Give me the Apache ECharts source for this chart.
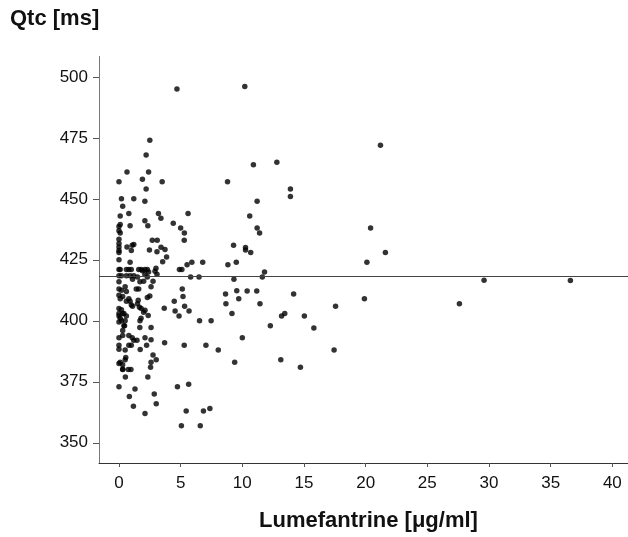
<!DOCTYPE html>
<html>
<head>
<meta charset="utf-8">
<script src="https://cdn.jsdelivr.net/npm/echarts@6/dist/echarts.min.js"></script>
<style>
html,body{margin:0;padding:0;background:#fff;}
#chart{width:628px;height:537px;}
</style>
</head>
<body>
<div id="chart"></div>
<script>
// Tick labels
const xTicks = [0, 5, 10, 15, 20, 25, 30, 35, 40];
const yTicks = [350, 375, 400, 425, 450, 475, 500];
const meanQtc = 418.3;
const yTitle = 'Qtc [ms]';
const xTitle = 'Lumefantrine [\u03bcg/ml]';

// Lumefantrine concentration (µg/ml), QTc (ms)
const lumefantrine = [
  0.0,0.1,0.1,0.0,0.0,0.1,0.0,0.0,0.0,0.0,0.0,0.0,0.0,0.1,0.0,0.2,0.0,0.0,0.2,0.0,0.3,0.1,0.0,0.2,0.0,0.3,0.0,0.1,0.2,0.0,0.4,0.3,0.0,0.3,0.0,0.0,0.1,0.0,0.3,0.3,0.0,0.2,0.3,
  0.65,0.8,0.9,0.65,1.07,1.2,1.0,0.9,0.6,0.8,1.0,0.6,0.9,1.2,1.1,0.5,0.6,0.8,0.9,0.6,1.0,1.1,0.4,0.6,0.5,0.45,0.8,1.07,1.2,1.0,0.8,0.5,0.55,0.5,0.3,0.75,0.97,0.52,0.84,1.17,1.3,1.2,1.46,
  1.9,2.2,2.5,2.4,2.2,2.1,2.1,2.34,2.47,1.6,1.8,2.1,2.3,2.1,1.5,2.3,2.0,1.7,1.4,1.6,2.5,2.3,1.56,1.5,1.66,1.8,2.11,2.37,1.79,1.7,2.0,1.69,2.6,2.11,2.6,2.24,1.72,2.34,2.11,2.4,1.9,
  2.7,3.1,3.41,3.73,3.08,3.86,3.54,2.92,3.08,3.0,2.76,2.6,3.2,3.4,3.5,3.67,2.76,3.02,2.56,2.6,2.86,3.02,3.7,
  4.7,4.4,5.0,5.3,5.29,5.6,5.91,6.79,5.52,4.9,5.1,5.81,6.49,5.13,5.19,4.48,5.32,4.55,5.68,4.87,6.53,7.47,5.29,7.05,8.05,4.74,5.65,7.37,6.85,5.45,5.06,6.59,
  10.2,12.8,10.9,8.8,13.9,13.9,11.2,10.6,11.2,11.4,9.29,10.26,10.26,10.68,9.51,8.83,11.8,11.62,9.32,8.64,9.55,10.39,11.17,14.16,9.71,8.67,11.43,9.16,13.44,13.18,15.03,12.27,10.0,13.12,9.38,14.71,
  21.2,20.4,21.6,20.1,19.9,17.56,15.8,17.44,27.6,29.6,36.6
];
const qtc = [
  457,443,439.5,438.7,436.9,436,433.4,431.7,430.3,428.8,428,425,421,421,418.5,418.5,416,413,412.5,410.5,410,409,405,404.5,403,403,402,401,400,399.5,398,396,393,394,390,388.3,383,382.5,382,380,373,450,447,
  461,444,439,430.3,431,431.3,428.8,424,421,421,421,418.5,418.5,418.5,417,414,412,409,408,408,406.5,406,403,402,400,398,394,393,392,390,390,388,385,384,380.1,380,380,377,369,365,372,450,392,
  458,468,474,461,454,449,441,439,429,421,421,421,421,419,418,418,416.2,416,413,413,410.2,409.5,408.4,407,405.6,405,404.3,402.2,401,400,403.5,397.2,397.2,393,392.2,390,388.2,377,362,420,420.5,
  433,433,430.2,429.2,428.3,426.2,424.2,420.3,419.1,421.5,416.2,414,444,442,457,405.1,386,384,381,383,370,366,391,
  495,440,438,436,433,444,424,424,423,421,421,418,418,413,410,408,406,404,404,402,400,400,390,390,388,373,374,364,363,363,357,357,
  496,465,464,457,454,451,449,443,438,436,431,430,429,428,424,423,420,418,417,411,412.3,412.2,412.2,411,409,407,407,403,403,402,402,398,393,384,383,381,
  472,438,428,424,409,406,397,388,407,416.6,416.5
];

const points = lumefantrine.map((x, i) => [x, qtc[i]]);

const chart = echarts.init(document.getElementById('chart'), null, {renderer: 'canvas'});
const FONT = 'Liberation Sans, Arial, sans-serif';

chart.setOption({
  animation: false,
  backgroundColor: '#ffffff',
  grid: {left: 99, right: 0, top: 56.5, bottom: 69.2, containLabel: false},
  xAxis: {
    type: 'value',
    min: -1.62,
    max: 41.27,
    splitLine: {show: false},
    axisLine: {onZero: false, lineStyle: {color: '#333', width: 1}},
    axisTick: {show: true, customValues: xTicks, length: 4, lineStyle: {color: '#555'}},
    axisLabel: {customValues: xTicks, color: '#111', fontFamily: FONT, fontSize: 17, margin: 12},
    name: xTitle,
    nameLocation: 'middle',
    nameGap: 47,
    nameTextStyle: {fontFamily: FONT, fontSize: 22, fontWeight: 'bold', color: '#111', padding: [0, 0, 0, 10]}
  },
  yAxis: {
    type: 'value',
    min: 341.7,
    max: 508.35,
    splitLine: {show: false},
    axisLine: {show: true, onZero: false, lineStyle: {color: '#777', width: 1}},
    axisTick: {show: true, customValues: yTicks, length: 6, lineStyle: {color: '#555'}},
    axisLabel: {customValues: yTicks, color: '#111', fontFamily: FONT, fontSize: 17, margin: 11}
  },
  graphic: [{
    type: 'text',
    left: 10,
    top: 8,
    style: {text: yTitle, font: 'bold 22px ' + FONT, fill: '#111'}
  }],
  series: [{
    type: 'scatter',
    data: points,
    symbol: 'circle',
    symbolSize: 5.5,
    itemStyle: {color: '#000'},
    markLine: {
      silent: true,
      symbol: ['none', 'none'],
      label: {show: false},
      lineStyle: {color: '#444', width: 1.2, type: 'solid'},
      data: [{yAxis: meanQtc}]
    }
  }]
});
</script>
</body>
</html>
